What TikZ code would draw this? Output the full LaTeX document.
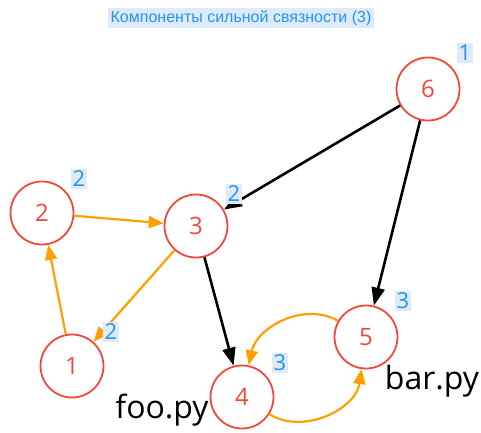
\documentclass[tikz,border=0pt]{standalone}
\usepackage{fontspec}
\setmainfont{Open Sans}
\newfontfamily\titlefont{Liberation Sans}
\usetikzlibrary{arrows.meta}
\definecolor{vred}{RGB}{240,72,60}
\definecolor{eorange}{RGB}{255,160,0}
\definecolor{lblue}{RGB}{33,150,243}
\definecolor{lbg}{RGB}{222,234,247}

\begin{document}
\begin{tikzpicture}[x=1pt,y=-1pt,vert/.style={circle,draw=vred,line width=1.8pt,minimum size=63pt,inner sep=0pt,text=vred,font=\fontsize{24}{28}\selectfont},num/.style={fill=lbg,text=lblue,inner sep=2pt,font=\fontsize{22}{24}\selectfont},oe/.style={-{Triangle[length=15pt,width=12pt]},line width=2.2pt,draw=eorange},be/.style={-{Triangle[length=18pt,width=13pt]},line width=2.6pt,draw=black},fname/.style={font=\fontsize{32}{36}\selectfont}]
\useasboundingbox (0,0) rectangle (481,432);

\node[fill=lbg,text=lblue,inner sep=2.5pt,font=\titlefont\fontsize{16}{18}\selectfont] (title) at(241,18) {Компоненты сильной связности (3)};

\node[vert] (n6) at(428,89) {6};
\node[vert] (n2) at(42,213) {2};
\node[vert] (n3) at(196,226) {3};
\node[vert] (n1) at(72,366) {1};
\node[vert] (n5) at(366,337) {5};
\node[vert] (n4) at(242,397) {4};

\draw[oe] (n1) -- (n2);
\draw[oe] (n2) -- (n3);
\draw[oe] (n3) -- (n1);
\draw[be] (n6) -- (n3);
\draw[be] (n6) -- (n5);
\draw[be] (n3) -- (n4);
\draw[oe] (n5) to[out=150,in=78] (n4);
\draw[oe] (n4) to[out=-32,in=-98] (n5);

\node[num] (c6) at(465,53) {1};
\node[num] (c2) at(79,179) {2};
\node[num] (c3) at(234,194) {2};
\node[num] (c1) at(111,332) {2};
\node[num] (c5) at(403,301) {3};
\node[num] (c4) at(280,363) {3};

\node[fname] (foo) at(162,410) {foo.py};
\node[fname] (bar) at(432,381) {bar.py};
\end{tikzpicture}
\end{document}
